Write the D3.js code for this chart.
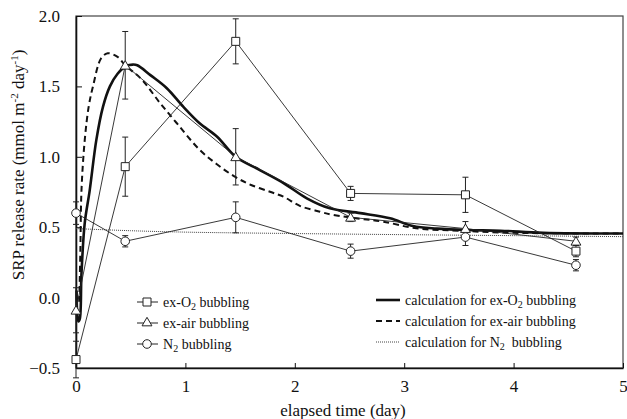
<!DOCTYPE html>
<html lang="en">
<head>
<meta charset="UTF-8" />
<title>SRP release rate</title>
<script src="https://d3js.org/d3.v7.min.js"></script>
<style>
  body { margin: 0; background: #fff; }
  svg { display: block; }
</style>
</head>
<body>
<svg id="chart" width="627" height="419"></svg>
<script>
// measured points
const days = [0, 0.45, 1.46, 2.51, 3.56, 4.57];
const o2 = [-0.44, 0.93, 1.82, 0.74, 0.73, 0.33];
const o2Err = [0.13, 0.21, 0.16, 0.05, 0.125, 0.04];
const air = [-0.09, 1.65, 1.0, 0.57, 0.49, 0.40];
const airErr = [0.16, 0.24, 0.2, 0.03, 0.05, 0.03];
const n2 = [0.6, 0.40, 0.57, 0.33, 0.43, 0.23];
const n2Err = [0.08, 0.04, 0.11, 0.05, 0.06, 0.04];

// model curves
const calcO2T = [0.005, 0.012, 0.022, 0.035, 0.05, 0.08, 0.125, 0.186, 0.247, 0.31, 0.38, 0.46, 0.52, 0.56, 0.68, 0.83, 0.98, 1.13, 1.29, 1.46, 1.68, 1.9, 2.11, 2.32, 2.6, 2.87, 3.08, 3.3, 3.57, 3.88, 4.27, 5];
const calcO2V = [0.05, -0.12, -0.17, -0.15, 0.17, 0.53, 0.76, 1.12, 1.356, 1.5, 1.59, 1.645, 1.655, 1.65, 1.58, 1.487, 1.356, 1.238, 1.143, 1.0, 0.906, 0.812, 0.705, 0.634, 0.6, 0.563, 0.508, 0.49, 0.48, 0.475, 0.46, 0.455];
const calcAirT = [0.03, 0.04, 0.05, 0.08, 0.116, 0.155, 0.23, 0.29, 0.38, 0.45, 0.6, 0.77, 0.92, 1.13, 1.3, 1.46, 1.6, 1.78, 1.9, 2.05, 2.23, 2.35, 2.6, 2.81, 3.11, 3.5, 4.0, 5];
const calcAirV = [-0.03, 0.34, 0.76, 1.12, 1.356, 1.5, 1.70, 1.735, 1.71, 1.65, 1.55, 1.38, 1.24, 1.05, 0.94, 0.855, 0.80, 0.75, 0.715, 0.65, 0.61, 0.587, 0.56, 0.539, 0.492, 0.475, 0.46, 0.455];
const calcN2T = [0, 0.5, 1, 2, 3, 4, 5];
const calcN2V = [0.49, 0.475, 0.465, 0.455, 0.447, 0.44, 0.433];

const xTicks = [0, 1, 2, 3, 4, 5];
const yTicks = [-0.5, 0, 0.5, 1.0, 1.5, 2.0];

const FONT = "Liberation Serif, serif";
const svg = d3.select("#chart");
const width = +svg.attr("width"), height = +svg.attr("height");
const margin = {top: 16, right: 4, bottom: 51, left: 76};
const x = d3.scaleLinear().domain([0, 5]).range([margin.left, width - margin.right]);
const y = d3.scaleLinear().domain([-0.5, 2]).range([height - margin.bottom, margin.top]);

svg.append("rect").attr("width", width).attr("height", height).attr("fill", "#fff");

// frame
svg.append("rect")
  .attr("x", x(0)).attr("y", y(2))
  .attr("width", x(5) - x(0)).attr("height", y(-0.5) - y(2))
  .attr("fill", "none").attr("stroke", "#444").attr("stroke-width", 1.2);

// axes with inward ticks
const xAxis = svg.append("g")
  .attr("transform", `translate(0,${y(-0.5)})`)
  .call(d3.axisBottom(x).tickValues(xTicks).tickSizeInner(-5).tickSizeOuter(0).tickPadding(12).tickFormat(d3.format("d")));
const yAxis = svg.append("g")
  .attr("transform", `translate(${x(0)},0)`)
  .call(d3.axisLeft(y).tickValues(yTicks).tickSizeInner(-6).tickSizeOuter(0).tickPadding(16).tickFormat(d3.format(".1f")));
[xAxis, yAxis].forEach(g => {
  g.attr("font-family", FONT).attr("font-size", 17);
  g.select(".domain").attr("stroke", "#111").attr("stroke-width", 1.6);
  g.selectAll(".tick line").attr("stroke", "#111");
  g.selectAll(".tick text").attr("fill", "#111");
});

// axis titles
svg.append("text")
  .attr("x", 343).attr("y", 415.5)
  .attr("text-anchor", "middle").attr("font-family", FONT).attr("font-size", 17).attr("fill", "#111")
  .text("elapsed time (day)");

const yTitle = svg.append("text")
  .attr("transform", "translate(24,165) rotate(-90)")
  .attr("text-anchor", "middle").attr("font-family", FONT).attr("font-size", 17).attr("fill", "#111");
yTitle.append("tspan").text("SRP release rate (mmol m");
yTitle.append("tspan").attr("dy", -6).attr("font-size", 11).text("-2");
yTitle.append("tspan").attr("dy", 6).text(" day");
yTitle.append("tspan").attr("dy", -6).attr("font-size", 11).text("-1");
yTitle.append("tspan").attr("dy", 6).text(")");

// model curves
const curve = d3.line().x(d => x(d[0])).y(d => y(d[1])).curve(d3.curveCatmullRom.alpha(0.5));
svg.append("path").datum(d3.zip(calcN2T, calcN2V)).attr("d", curve)
  .attr("fill", "none").attr("stroke", "#444").attr("stroke-width", 1).attr("stroke-dasharray", "1,1");
svg.append("path").datum(d3.zip(calcAirT, calcAirV)).attr("d", curve)
  .attr("fill", "none").attr("stroke", "#111").attr("stroke-width", 2).attr("stroke-dasharray", "6,4");
svg.append("path").datum(d3.zip(calcO2T, calcO2V)).attr("d", curve)
  .attr("fill", "none").attr("stroke", "#111").attr("stroke-width", 2.6);

// measured series
const series = [
  {name: "o2", vals: o2, err: o2Err, shape: d3.symbolSquare, size: 64},
  {name: "air", vals: air, err: airErr, shape: d3.symbolTriangle, size: 42},
  {name: "n2", vals: n2, err: n2Err, shape: d3.symbolCircle, size: 58}
];
const straight = d3.line().x(d => x(d[0])).y(d => y(d[1]));

series.forEach(s => {
  svg.append("path").datum(d3.zip(days, s.vals)).attr("d", straight)
    .attr("fill", "none").attr("stroke", "#222").attr("stroke-width", 0.9);
});

series.forEach(s => {
  const g = svg.append("g").attr("stroke", "#222").attr("stroke-width", 1);
  days.forEach((d, i) => {
    const hi = y(s.vals[i] + s.err[i]), lo = y(s.vals[i] - s.err[i]);
    g.append("line").attr("x1", x(d)).attr("x2", x(d)).attr("y1", hi).attr("y2", lo);
    g.append("line").attr("x1", x(d) - 3).attr("x2", x(d) + 3).attr("y1", hi).attr("y2", hi);
    g.append("line").attr("x1", x(d) - 3).attr("x2", x(d) + 3).attr("y1", lo).attr("y2", lo);
  });
});

series.forEach(s => {
  svg.selectAll(".m-" + s.name)
    .data(d3.zip(days, s.vals))
    .enter()
    .append("path")
    .attr("d", d3.symbol().type(s.shape).size(s.size))
    .attr("transform", d => `translate(${x(d[0])},${y(d[1]) + (s.shape === d3.symbolTriangle ? 1 : 0)})`)
    .attr("fill", "#fff").attr("stroke", "#222").attr("stroke-width", 1);
});

// legend: measured
const legL = [
  {label: ["ex-O", "2", " bubbling"], shape: d3.symbolSquare, size: 64},
  {label: ["ex-air bubbling"], shape: d3.symbolTriangle, size: 42},
  {label: ["N", "2", " bubbling"], shape: d3.symbolCircle, size: 58}
];
legL.forEach((l, i) => {
  const cy = 302 + i * 21;
  svg.append("line").attr("x1", 137).attr("x2", 158).attr("y1", cy).attr("y2", cy)
    .attr("stroke", "#222").attr("stroke-width", 1);
  svg.append("path").attr("d", d3.symbol().type(l.shape).size(l.size))
    .attr("transform", `translate(147,${cy})`)
    .attr("fill", "#fff").attr("stroke", "#222");
  const t = svg.append("text").attr("x", 163).attr("y", cy + 5)
    .attr("font-family", FONT).attr("font-size", 14).attr("fill", "#111");
  t.append("tspan").text(l.label[0]);
  if (l.label.length > 1) {
    t.append("tspan").attr("dy", 3).attr("font-size", 10).text(l.label[1]);
    t.append("tspan").attr("dy", -3).text(l.label[2]);
  }
});

// legend: calculation
const legR = [
  {label: ["calculation for ex-O", "2", " bubbling"], width: 2.6, dash: null, color: "#111"},
  {label: ["calculation for ex-air bubbling"], width: 2, dash: "6,4", color: "#111"},
  {label: ["calculation for N", "2", "  bubbling"], width: 1, dash: "1,1", color: "#444"}
];
legR.forEach((l, i) => {
  const cy = 300 + i * 21;
  svg.append("line").attr("x1", 376).attr("x2", 400).attr("y1", cy).attr("y2", cy)
    .attr("stroke", l.color).attr("stroke-width", l.width).attr("stroke-dasharray", l.dash);
  const t = svg.append("text").attr("x", 405).attr("y", cy + 5)
    .attr("font-family", FONT).attr("font-size", 14).attr("fill", "#111")
    .style("white-space", "pre");
  t.append("tspan").text(l.label[0]);
  if (l.label.length > 1) {
    t.append("tspan").attr("dy", 3).attr("font-size", 10).text(l.label[1]);
    t.append("tspan").attr("dy", -3).text(l.label[2]);
  }
});
</script>
</body>
</html>
